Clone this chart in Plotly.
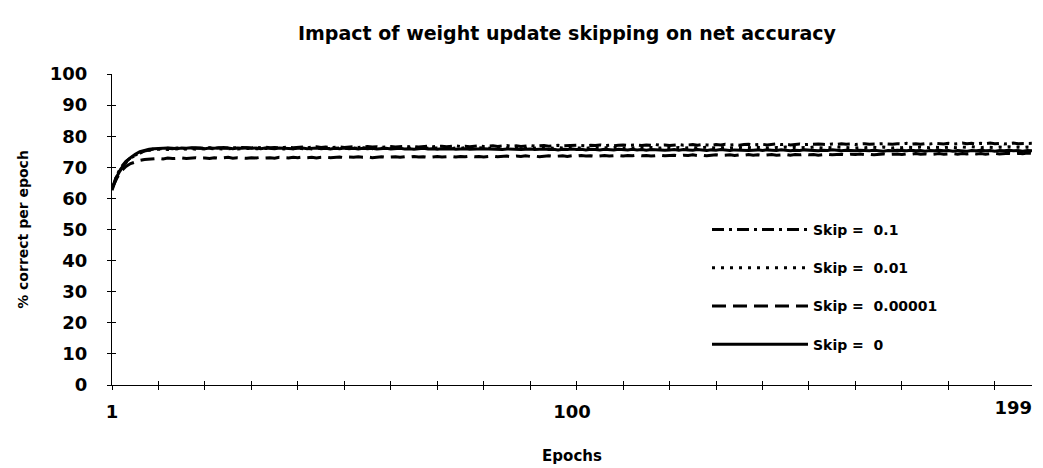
import plotly.graph_objects as go

epochs = list(range(1, 200))
x_tick_vals = [1, 100, 199]
x_tick_text = ["1", "100", "199"]
x_minor_ticks = list(range(1, 192, 10))
y_ticks = list(range(0, 101, 10))

series_names = ["Skip =\u00a0\u00a00.1", "Skip =\u00a0\u00a00.01", "Skip =\u00a0\u00a00.00001", "Skip =\u00a0\u00a00"]

skip_0_1 = [
    63.0, 67.4, 70.1, 71.9, 73.1, 74.0, 74.7, 75.2, 75.6, 75.9,
    76.0, 75.9, 76.1, 76.0, 76.2, 76.1, 76.0, 76.2, 76.3, 76.1,
    76.2, 76.3, 76.1, 76.2, 76.4, 76.2, 76.3, 76.2, 76.4, 76.3,
    76.2, 76.4, 76.3, 76.5, 76.3, 76.4, 76.2, 76.4, 76.5, 76.3,
    76.4, 76.5, 76.3, 76.4, 76.6, 76.4, 76.5, 76.3, 76.5, 76.6,
    76.4, 76.5, 76.6, 76.4, 76.5, 76.7, 76.5, 76.6, 76.4, 76.6,
    76.7, 76.5, 76.6, 76.8, 76.6, 76.7, 76.5, 76.7, 76.8, 76.6,
    76.7, 76.8, 76.6, 76.8, 76.9, 76.7, 76.8, 76.6, 76.8, 76.9,
    76.7, 76.8, 76.9, 76.7, 76.9, 77.0, 76.8, 76.9, 76.7, 76.9,
    77.0, 76.8, 76.9, 77.0, 76.8, 77.0, 77.1, 76.9, 77.0, 76.9,
    77.1, 77.0, 76.9, 77.1, 77.0, 77.2, 77.0, 77.1, 76.9, 77.1,
    77.2, 77.0, 77.1, 77.2, 77.0, 77.2, 77.1, 77.3, 77.1, 77.2,
    77.0, 77.2, 77.3, 77.1, 77.2, 77.3, 77.1, 77.3, 77.2, 77.1,
    77.3, 77.2, 77.4, 77.2, 77.3, 77.1, 77.3, 77.4, 77.2, 77.3,
    77.4, 77.2, 77.3, 77.5, 77.3, 77.4, 77.2, 77.4, 77.5, 77.3,
    77.4, 77.3, 77.5, 77.4, 77.3, 77.5, 77.4, 77.6, 77.4, 77.5,
    77.3, 77.5, 77.6, 77.4, 77.5, 77.4, 77.6, 77.5, 77.4, 77.6,
    77.5, 77.7, 77.5, 77.6, 77.4, 77.6, 77.5, 77.7, 77.6, 77.5,
    77.7, 77.5, 77.6, 77.8, 77.6, 77.7, 77.5, 77.7, 77.6, 77.8,
    77.6, 77.7, 77.5, 77.7, 77.8, 77.6, 77.7, 77.6, 77.7,
]

skip_0_01 = [
    63.6, 67.1, 69.6, 71.5, 72.9, 73.9, 74.6, 75.1, 75.5, 75.7,
    75.8, 75.9, 75.7, 75.9, 76.0, 75.8, 75.9, 76.0, 75.8, 76.0,
    75.9, 76.1, 75.9, 76.0, 75.8, 76.0, 76.1, 75.9, 76.0, 75.9,
    76.1, 76.0, 75.9, 76.1, 76.0, 76.2, 76.0, 75.9, 76.1, 76.0,
    76.2, 76.0, 76.1, 75.9, 76.1, 76.2, 76.0, 76.1, 76.0, 76.2,
    76.1, 76.0, 76.2, 76.1, 76.3, 76.1, 76.0, 76.2, 76.1, 76.0,
    76.2, 76.1, 76.3, 76.1, 76.2, 76.0, 76.2, 76.3, 76.1, 76.2,
    76.1, 76.3, 76.2, 76.0, 76.2, 76.1, 76.3, 76.2, 76.1, 76.3,
    76.2, 76.1, 76.3, 76.2, 76.4, 76.2, 76.1, 76.3, 76.2, 76.1,
    76.3, 76.2, 76.4, 76.2, 76.3, 76.1, 76.3, 76.2, 76.4, 76.3,
    76.2, 76.3, 76.1, 76.3, 76.4, 76.2, 76.3, 76.2, 76.4, 76.3,
    76.1, 76.3, 76.2, 76.4, 76.3, 76.2, 76.4, 76.3, 76.2, 76.4,
    76.3, 76.2, 76.4, 76.2, 76.3, 76.4, 76.2, 76.3, 76.5, 76.3,
    76.2, 76.4, 76.3, 76.2, 76.4, 76.3, 76.5, 76.3, 76.2, 76.4,
    76.3, 76.4, 76.2, 76.4, 76.3, 76.5, 76.3, 76.4, 76.2, 76.4,
    76.3, 76.5, 76.4, 76.2, 76.4, 76.3, 76.5, 76.4, 76.3, 76.4,
    76.2, 76.4, 76.3, 76.5, 76.4, 76.3, 76.5, 76.4, 76.2, 76.4,
    76.3, 76.5, 76.4, 76.3, 76.5, 76.4, 76.3, 76.5, 76.4, 76.3,
    76.5, 76.4, 76.3, 76.5, 76.4, 76.6, 76.4, 76.3, 76.5, 76.4,
    76.3, 76.5, 76.4, 76.6, 76.4, 76.5, 76.3, 76.5, 76.4,
]

skip_0_00001 = [
    63.3, 66.4, 68.8, 70.3, 71.2, 71.8, 72.2, 72.5, 72.7, 72.8,
    72.9, 72.7, 73.0, 72.8, 72.9, 73.0, 72.8, 72.9, 73.1, 72.9,
    73.0, 72.8, 73.1, 72.9, 73.0, 73.2, 72.9, 73.1, 73.0, 72.9,
    73.1, 73.0, 73.2, 73.0, 73.1, 72.9, 73.2, 73.1, 73.0, 73.2,
    73.1, 73.3, 73.1, 73.2, 73.0, 73.2, 73.3, 73.1, 73.2, 73.3,
    73.1, 73.3, 73.2, 73.4, 73.2, 73.3, 73.1, 73.3, 73.4, 73.2,
    73.3, 73.4, 73.2, 73.4, 73.3, 73.5, 73.3, 73.4, 73.2, 73.4,
    73.5, 73.3, 73.4, 73.5, 73.3, 73.5, 73.4, 73.6, 73.4, 73.5,
    73.3, 73.5, 73.6, 73.4, 73.5, 73.6, 73.4, 73.6, 73.5, 73.7,
    73.5, 73.6, 73.4, 73.6, 73.7, 73.5, 73.6, 73.7, 73.5, 73.7,
    73.6, 73.8, 73.6, 73.7, 73.5, 73.7, 73.8, 73.6, 73.7, 73.8,
    73.6, 73.8, 73.7, 73.9, 73.7, 73.8, 73.6, 73.8, 73.9, 73.7,
    73.8, 73.9, 73.7, 73.9, 73.8, 74.0, 73.8, 73.9, 73.7, 73.9,
    74.0, 73.8, 73.9, 74.0, 73.8, 74.0, 73.9, 74.1, 73.9, 74.0,
    73.8, 74.0, 74.1, 73.9, 74.0, 74.1, 73.9, 74.1, 74.0, 74.2,
    74.0, 74.1, 73.9, 74.1, 74.2, 74.0, 74.1, 74.2, 74.0, 74.2,
    74.1, 74.3, 74.1, 74.2, 74.0, 74.2, 74.3, 74.1, 74.2, 74.3,
    74.1, 74.3, 74.2, 74.4, 74.2, 74.3, 74.1, 74.3, 74.4, 74.2,
    74.3, 74.4, 74.2, 74.4, 74.3, 74.5, 74.3, 74.4, 74.2, 74.4,
    74.5, 74.3, 74.4, 74.5, 74.3, 74.5, 74.4, 74.6, 74.5,
]

skip_0 = [
    62.6, 66.9, 69.7, 71.7, 73.1, 74.2, 75.0, 75.5, 75.8, 76.0,
    76.1, 76.0, 76.2, 76.1, 76.0, 76.2, 76.1, 76.3, 76.1, 76.2,
    76.0, 76.2, 76.1, 76.3, 76.1, 76.2, 76.0, 76.2, 76.1, 76.3,
    76.1, 76.2, 76.0, 76.2, 76.1, 76.0, 76.2, 76.1, 76.2, 76.0,
    76.1, 76.2, 76.0, 76.1, 76.2, 76.0, 76.1, 75.9, 76.1, 76.0,
    76.2, 76.0, 76.1, 75.9, 76.1, 76.0, 76.1, 75.9, 76.0, 76.1,
    75.9, 76.0, 76.1, 75.9, 76.0, 75.8, 76.0, 76.1, 75.9, 76.0,
    75.8, 76.0, 75.9, 76.0, 75.8, 75.9, 76.0, 75.8, 75.9, 75.8,
    76.0, 75.9, 75.8, 75.9, 75.7, 75.9, 75.8, 75.9, 75.7, 75.8,
    75.9, 75.7, 75.8, 75.9, 75.7, 75.8, 75.6, 75.8, 75.7, 75.9,
    75.7, 75.8, 75.6, 75.8, 75.7, 75.6, 75.8, 75.7, 75.6, 75.8,
    75.7, 75.6, 75.8, 75.6, 75.7, 75.5, 75.7, 75.6, 75.7, 75.5,
    75.6, 75.7, 75.5, 75.7, 75.6, 75.5, 75.7, 75.6, 75.4, 75.6,
    75.5, 75.7, 75.6, 75.4, 75.6, 75.5, 75.6, 75.4, 75.5, 75.6,
    75.4, 75.6, 75.5, 75.4, 75.6, 75.5, 75.3, 75.5, 75.4, 75.6,
    75.5, 75.4, 75.3, 75.5, 75.4, 75.6, 75.4, 75.3, 75.5, 75.4,
    75.3, 75.5, 75.4, 75.3, 75.5, 75.4, 75.2, 75.4, 75.3, 75.5,
    75.4, 75.3, 75.5, 75.3, 75.4, 75.2, 75.4, 75.3, 75.5, 75.3,
    75.4, 75.2, 75.4, 75.3, 75.2, 75.4, 75.3, 75.5, 75.3, 75.4,
    75.2, 75.4, 75.3, 75.5, 75.3, 75.4, 75.2, 75.4, 75.3,
]

series_values = [skip_0_1, skip_0_01, skip_0_00001, skip_0]
dashes = ["12px,5px,3px,5px", "3px,6px", "14px,7px", "solid"]

FONT = "DejaVu Sans"
tick_font = dict(size=18, family=FONT, color="black")

fig = go.Figure()
for i, (name, vals, dash) in enumerate(zip(series_names, series_values, dashes)):
    fig.add_trace(go.Scatter(
        x=epochs[:len(vals)], y=vals, mode="lines", name=f"<b>{name}</b>",
        line=dict(color="black", width=3, dash=dash),
        legendgroup=f"g{i}",
    ))

# invisible helper traces so the overlay axes (inner half of the cross ticks, last label) get drawn
for xa in ("x2", "x3"):
    fig.add_trace(go.Scatter(
        x=epochs[:len(skip_0)], y=skip_0, mode="lines", xaxis=xa, yaxis="y2",
        line=dict(color="rgba(0,0,0,0)", width=0), showlegend=False, hoverinfo="skip",
    ))

fig.update_layout(
    width=1043, height=468,
    margin=dict(l=112, r=11, t=74, b=83),
    paper_bgcolor="white", plot_bgcolor="white",
    font=dict(family=FONT, color="black"),
    title=dict(text="<b>Impact of weight update skipping on net accuracy</b>",
               x=(567 - 112) / 920, xref="paper", xanchor="center",
               y=1 - 33 / 468, yref="container", yanchor="middle",
               font=dict(size=19, family=FONT, color="black")),
    showlegend=True,
    legend=dict(x=(707 - 112) / 920, xanchor="left", y=(385 - 214) / 311, yanchor="top",
                bgcolor="rgba(0,0,0,0)", font=dict(size=14, family=FONT, color="black"),
                tracegroupgap=17, itemwidth=96,
                ),
    xaxis=dict(range=[1, 199], tickmode="array", tickvals=x_tick_vals[:2],
               ticktext=[f"<b>{t}</b>" for t in x_tick_text[:2]],
               ticks="", showline=True, linecolor="black", linewidth=1, automargin=False,
               showgrid=False, zeroline=False, ticklabelstandoff=10,
               tickfont=tick_font,
               title=dict(text="<b>Epochs</b>", font=dict(size=15, family=FONT, color="black"), standoff=29),
               minor=dict(tickmode="array", tickvals=x_minor_ticks, ticks="outside", ticklen=4, tickcolor="black", showgrid=False)),
    xaxis2=dict(range=[1, 199], overlaying="x", anchor="y", side="bottom", automargin=False,
                tickmode="array", tickvals=x_minor_ticks, ticks="inside", ticklen=4, tickcolor="black",
                showticklabels=False, showline=False, showgrid=False, zeroline=False),
    xaxis3=dict(range=[1, 199], overlaying="x", anchor="y", side="bottom", automargin=False,
                tickmode="array", tickvals=x_tick_vals[2:], ticktext=[f"<b>{t}</b>" for t in x_tick_text[2:]],
                ticks="", ticklabelposition="outside left", ticklabelstandoff=10,
                tickfont=tick_font, showline=False, showgrid=False, zeroline=False),
    yaxis=dict(range=[0, 100], tickmode="array", tickvals=y_ticks, ticktext=[f"<b>{v}</b>" for v in y_ticks],
               ticks="outside", ticklen=4, tickcolor="black", automargin=False,
               showline=True, linecolor="black", linewidth=1, showgrid=False, zeroline=False,
               ticklabelstandoff=16,
               tickfont=tick_font,
               title=dict(text="<b>% correct per epoch</b>", font=dict(size=14, family=FONT, color="black"), standoff=17)),
    yaxis2=dict(range=[0, 100], overlaying="y", anchor="x", side="left", automargin=False,
                tickmode="array", tickvals=y_ticks, ticks="inside", ticklen=4, tickcolor="black",
                showticklabels=False, showline=False, showgrid=False, zeroline=False),
)

fig.write_html(
    "out.html",
    config={"displayModeBar": False},
    post_script="document.body.style.margin='0';document.body.style.padding='0';document.body.style.overflow='hidden';",
)
